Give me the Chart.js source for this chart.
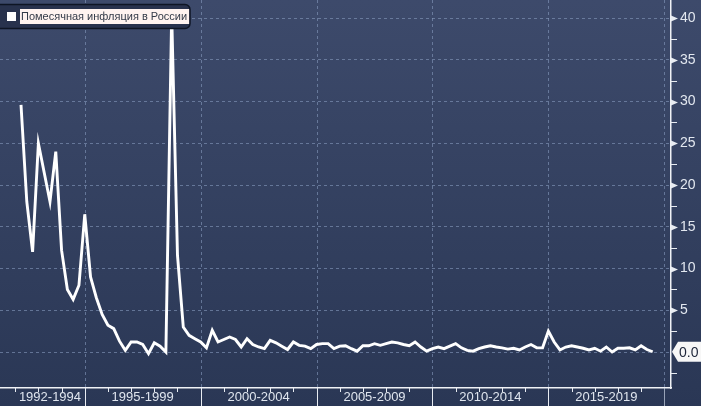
<!DOCTYPE html>
<html><head><meta charset="utf-8">
<script src="https://cdn.jsdelivr.net/npm/chart.js@4"></script>
<style>html,body{margin:0;padding:0;background:#2e3b5a}#wrap{width:701px;height:406px;position:relative}</style>
</head><body><div id="wrap"><canvas id="c" width="701" height="406"></canvas></div>
<script>
// ---- data ----
const seriesName = 'Помесячная инфляция в России';
const startYear = 1992, startQuarter = 2;
const inflation = [
 29.6, 18, 12, 25, 21.5, 18, 24, 12.2, 7.5, 6.3,
 8, 16.5, 9, 6.5, 4.5, 3.2, 2.8, 1.3, 0.2, 1.2,
 1.2, 0.9, -0.2, 1.1, 0.7, 0.0, 40.5, 11.6, 3.0, 2.0,
 1.6, 1.2, 0.5, 2.6, 1.2, 1.5, 1.8, 1.5, 0.6, 1.6,
 0.9, 0.6, 0.4, 1.4, 1.1, 0.7, 0.3, 1.2, 0.8, 0.7,
 0.4, 0.9, 1.0, 1.0, 0.4, 0.7, 0.75, 0.4, 0.1, 0.75,
 0.75, 1.0, 0.8, 1.0, 1.2, 1.1, 0.9, 0.75, 1.2, 0.6,
 0.1, 0.4, 0.6, 0.4, 0.7, 1.0, 0.5, 0.2, 0.1, 0.4,
 0.6, 0.75, 0.6, 0.5, 0.35, 0.45, 0.25, 0.6, 0.9, 0.5,
 0.5, 2.5, 1.2, 0.25, 0.6, 0.75, 0.6, 0.45, 0.25, 0.45,
 0.1, 0.6, 0.0, 0.45, 0.45, 0.5, 0.25, 0.75, 0.3, 0.03
];
const periodLabels = ['1992-1994','1995-1999','2000-2004','2005-2009','2010-2014','2015-2019'];
const periodStarts = [1992, 1995, 2000, 2005, 2010, 2015];
const periodEnds   = [1995, 2000, 2005, 2010, 2015, 2020];
const yMajorTicks = [5, 10, 15, 20, 25, 30, 35, 40];
const yAllTicks = [-2.5, 0, 2.5, 5, 7.5, 10, 12.5, 15, 17.5, 20, 22.5, 25, 27.5, 30, 32.5, 35, 37.5, 40];

// quarter positions (derived from the start quarter)
const points = inflation.map((v, i) => {
  const q = startQuarter - 1 + i;
  return { x: startYear + Math.floor(q / 4) + (q % 4) / 4, y: v };
});

const X_MIN = 1991.344, X_MAX = 2020.29;
const Y_MIN = -4.31, Y_MAX = 42.16;
const FONT = '"Liberation Sans", Arial, sans-serif';

const decor = {
  id: 'decor',
  beforeDraw(chart) {
    const {ctx, width, height} = chart;
    const g = ctx.createLinearGradient(0, 0, 0, height);
    g.addColorStop(0, '#3d4a6b');
    g.addColorStop(1, '#2a3755');
    ctx.save(); ctx.fillStyle = g; ctx.fillRect(0, 0, width, height); ctx.restore();
  },
  beforeDatasetsDraw(chart) {
    const {ctx, chartArea} = chart;
    const xs = chart.scales.x;
    ctx.save();
    ctx.strokeStyle = 'rgba(135,155,190,0.6)';
    ctx.lineWidth = 1;
    ctx.setLineDash([3, 3]);
    periodEnds.forEach(b => {
      const px = Math.round(xs.getPixelForValue(b)) + 0.5;
      ctx.beginPath(); ctx.moveTo(px, chartArea.top); ctx.lineTo(px, chartArea.bottom); ctx.stroke();
    });
    ctx.restore();
  },
  afterDraw(chart) {
    const {ctx, chartArea, height} = chart;
    const xs = chart.scales.x, ys = chart.scales.y;
    ctx.save();
    // separators and yearly ticks below x axis
    ctx.lineWidth = 1;
    periodEnds.forEach((b, i) => {
      const px = Math.round(xs.getPixelForValue(b)) + 0.5;
      ctx.strokeStyle = i === periodEnds.length - 1 ? 'rgba(200,210,225,0.7)' : '#e8ecf2';
      ctx.beginPath(); ctx.moveTo(px, chartArea.bottom); ctx.lineTo(px, height); ctx.stroke();
    });
    ctx.strokeStyle = '#e8ecf2';
    for (let yr = 1992; yr <= 2019; yr++) {
      if (periodEnds.includes(yr)) continue;
      const px = Math.round(xs.getPixelForValue(yr)) + 0.5;
      ctx.beginPath(); ctx.moveTo(px, chartArea.bottom); ctx.lineTo(px, chartArea.bottom + 4); ctx.stroke();
    }
    // y ticks: pointers for majors, short lines for minors
    const ax = chartArea.right;
    ctx.fillStyle = '#e8ecf2';
    yAllTicks.forEach(v => {
      const py = Math.round(ys.getPixelForValue(v)) + 0.5;
      if (yMajorTicks.includes(v)) {
        ctx.beginPath(); ctx.moveTo(ax, py - 3); ctx.lineTo(ax + 7, py); ctx.lineTo(ax, py + 3); ctx.closePath(); ctx.fill();
      } else if (v !== 0) {
        ctx.beginPath(); ctx.moveTo(ax, py); ctx.lineTo(ax + 6, py); ctx.stroke();
      }
    });
    // last value tag
    const last = inflation[inflation.length - 1];
    const ty = ys.getPixelForValue(last);
    ctx.fillStyle = '#f7f7f7';
    ctx.beginPath();
    ctx.moveTo(ax + 1, ty);
    ctx.lineTo(ax + 7, ty - 10);
    ctx.lineTo(701, ty - 10);
    ctx.lineTo(701, ty + 10);
    ctx.lineTo(ax + 7, ty + 10);
    ctx.closePath(); ctx.fill();
    ctx.fillStyle = '#1c2438';
    ctx.font = '14px ' + FONT;
    ctx.textBaseline = 'middle';
    ctx.textAlign = 'left';
    ctx.fillText(last.toFixed(1), ax + 8, ty + 1);
    // legend
    ctx.fillStyle = '#28324d';
    ctx.strokeStyle = '#0e1524';
    ctx.lineWidth = 1.5;
    ctx.beginPath(); ctx.roundRect(-5, 4.5, 195, 24, 5); ctx.fill(); ctx.stroke();
    ctx.fillStyle = '#ffffff';
    ctx.fillRect(7, 12, 9, 9);
    ctx.font = '11px ' + FONT;
    const tw = ctx.measureText(chart.data.datasets[0].label).width;
    ctx.fillStyle = '#fff3f0';
    ctx.fillRect(20, 9, tw + 3, 15);
    ctx.fillStyle = '#333a48';
    ctx.textBaseline = 'middle';
    ctx.fillText(chart.data.datasets[0].label, 21, 17);
    ctx.restore();
  }
};

new Chart(document.getElementById('c'), {
  type: 'line',
  data: {
    datasets: [{
      label: seriesName,
      data: points,
      borderColor: '#ffffff',
      borderWidth: 2.9,
      pointRadius: 0,
      tension: 0,
      fill: false
    }]
  },
  options: {
    responsive: false,
    animation: false,
    devicePixelRatio: 1,
    layout: { padding: 0 },
    plugins: { legend: { display: false }, tooltip: { enabled: false } },
    scales: {
      x: {
        type: 'linear',
        min: X_MIN, max: X_MAX,
        afterBuildTicks(s) {
          s.ticks = periodStarts.map((st, i) => ({ value: (Math.max(st, X_MIN) + periodEnds[i]) / 2 }));
        },
        afterFit(s) { s.height = 18; s.paddingLeft = 0; s.paddingRight = 0; },
        ticks: {
          autoSkip: false, maxRotation: 0, padding: 2,
          color: '#dfe5ee', font: { size: 13, family: FONT },
          callback: (v, i) => periodLabels[i]
        },
        grid: { display: false, drawTicks: false },
        border: { display: true, color: '#f0f2f6', width: 1.5 }
      },
      y: {
        type: 'linear',
        position: 'right',
        min: Y_MIN, max: Y_MAX,
        afterBuildTicks(s) { s.ticks = yAllTicks.map(v => ({ value: v })); },
        afterFit(s) { s.width = 30; s.paddingTop = 0; s.paddingBottom = 0; },
        ticks: {
          padding: 9, color: '#e3e8f0', font: { size: 14, family: FONT },
          callback: v => yMajorTicks.includes(v) ? String(v) : ''
        },
        grid: {
          drawTicks: false,
          color: ctx => (ctx.tick && ctx.tick.value % 5 === 0) ? 'rgba(135,155,190,0.6)' : 'rgba(0,0,0,0)',
          lineWidth: 1
        },
        border: { display: true, color: '#f0f2f6', width: 1.5, dash: [3, 3] }
      }
    }
  },
  plugins: [decor]
});
</script></body></html>
